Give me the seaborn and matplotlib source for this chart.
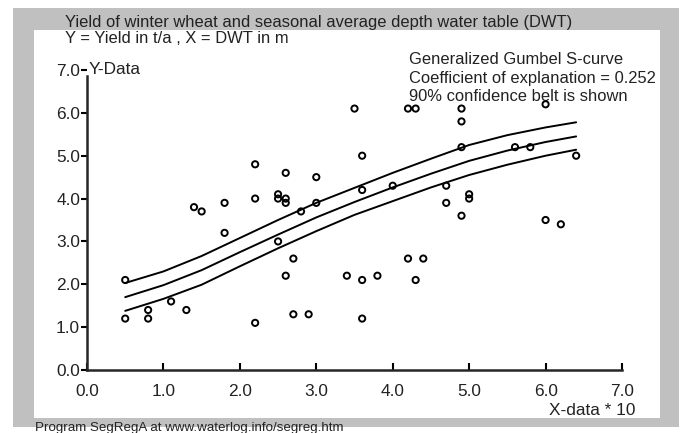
import matplotlib
matplotlib.use("Agg")
import matplotlib.pyplot as plt
from matplotlib.patches import Rectangle
import seaborn as sns
import pandas as pd

# ---- data ----
x_data = [0.5, 0.5, 0.8, 0.8, 1.1, 1.3, 1.4, 1.5, 1.8, 1.8, 2.2, 2.2, 2.2, 2.5, 2.5, 2.5,
          2.6, 2.6, 2.6, 2.6, 2.7, 2.7, 2.8, 2.9, 3.0, 3.0, 3.4, 3.5, 3.6, 3.6, 3.6, 3.6,
          3.8, 4.0, 4.2, 4.3, 4.2, 4.4, 4.3, 4.7, 4.7, 4.9, 4.9, 4.9, 4.9, 5.0, 5.0,
          5.6, 5.8, 6.0, 6.0, 6.2, 6.4]
y_data = [2.1, 1.2, 1.4, 1.2, 1.6, 1.4, 3.8, 3.7, 3.9, 3.2, 4.8, 4.0, 1.1, 4.1, 4.0, 3.0,
          4.6, 4.0, 3.9, 2.2, 2.6, 1.3, 3.7, 1.3, 4.5, 3.9, 2.2, 6.1, 5.0, 4.2, 2.1, 1.2,
          2.2, 4.3, 6.1, 6.1, 2.6, 2.6, 2.1, 4.3, 3.9, 6.1, 5.8, 5.2, 3.6, 4.1, 4.0,
          5.2, 5.2, 6.2, 3.5, 3.4, 5.0]

curve_x = [0.5, 1.0, 1.5, 2.0, 2.5, 3.0, 3.5, 4.0, 4.5, 5.0, 5.5, 6.0, 6.4]
curve_mid = [1.70, 1.98, 2.33, 2.75, 3.16, 3.56, 3.92, 4.26, 4.58, 4.88, 5.12, 5.32, 5.45]
curve_up = [2.03, 2.30, 2.66, 3.08, 3.50, 3.90, 4.25, 4.60, 4.93, 5.25, 5.48, 5.66, 5.78]
curve_lo = [1.38, 1.66, 1.99, 2.42, 2.84, 3.24, 3.62, 3.94, 4.26, 4.55, 4.79, 5.00, 5.14]

x_ticks = [0, 1, 2, 3, 4, 5, 6, 7]
x_tick_labels = ["0.0", "1.0", "2.0", "3.0", "4.0", "5.0", "6.0", "7.0"]
y_ticks = [0, 1, 2, 3, 4, 5, 6, 7]
y_tick_labels = ["0.0", "1.0", "2.0", "3.0", "4.0", "5.0", "6.0", "7.0"]

title = "Yield of winter wheat and seasonal average depth water table (DWT)"
subtitle = "Y = Yield in t/a , X = DWT in m"
notes = ["Generalized Gumbel S-curve",
         "Coefficient of explanation = 0.252",
         "90% confidence belt is shown"]
footer = "Program SegRegA at www.waterlog.info/segreg.htm"

# ---- figure ----
sns.set_style("white")
plt.rcParams["font.family"] = ["Liberation Sans", "DejaVu Sans"]

W, H = 687, 433
fig = plt.figure(figsize=(W / 100, H / 100), dpi=100)
fig.patch.set_facecolor("white")


def fx(px):
    return px / W


def fy(py):
    return 1 - py / H


fig.patches.append(Rectangle((fx(13), fy(427)), fx(679) - fx(13), fy(8) - fy(427),
                             transform=fig.transFigure, facecolor="#c0c0c0",
                             edgecolor="none", zorder=-10))
fig.patches.append(Rectangle((fx(34), fy(418)), fx(660) - fx(34), fy(30) - fy(418),
                             transform=fig.transFigure, facecolor="white",
                             edgecolor="none", zorder=-9))

ax = fig.add_axes([fx(87), fy(370), fx(622) - fx(87), fy(70) - fy(370)])
ax.set_facecolor("none")
ax.set_zorder(5)

df = pd.DataFrame({"x": x_data, "y": y_data})
cdf = pd.DataFrame({"x": curve_x, "mid": curve_mid, "up": curve_up, "lo": curve_lo})

for col in ["up", "mid", "lo"]:
    sns.lineplot(data=cdf, x="x", y=col, ax=ax, color="black", linewidth=1.4,
                 estimator=None, sort=False)

sns.scatterplot(data=df, x="x", y="y", ax=ax, marker="o", s=20,
                facecolor="none", edgecolor="black", linewidth=1.4, zorder=5)

ax.set_xlim(0, 7)
ax.set_ylim(0, 7)
ax.set_xticks(x_ticks)
ax.set_xticklabels(x_tick_labels)
ax.set_yticks(y_ticks)
ax.set_yticklabels(y_tick_labels)
ax.set_xlabel("")
ax.set_ylabel("")

txt_color = "#222222"
fs = 11.9
fs_ax = 12.4
ax.tick_params(axis="x", direction="in", length=5, width=1.5, pad=10,
               labelsize=fs_ax, labelcolor=txt_color, color="black", bottom=True)
ax.tick_params(axis="y", direction="out", length=4, width=1.5, pad=1,
               labelsize=fs_ax, labelcolor=txt_color, color="black", left=True)

for s in ["top", "right"]:
    ax.spines[s].set_visible(False)
ax.spines["left"].set_linewidth(1.8)
ax.spines["bottom"].set_linewidth(1.8)
ax.spines["left"].set_bounds(0, 6.85)

# texts
fig.text(fx(65), fy(27), title, fontsize=fs, color=txt_color, ha="left", va="baseline")
fig.text(fx(65), fy(43), subtitle, fontsize=fs, color=txt_color, ha="left", va="baseline")
for i, n in enumerate(notes):
    fig.text(fx(409), fy(64 + 18.7 * i), n, fontsize=fs, color=txt_color,
             ha="left", va="baseline")
fig.text(fx(89), fy(74), "Y-Data", fontsize=fs_ax, color=txt_color, ha="left",
         va="baseline")
fig.text(fx(635), fy(415), "X-data * 10", fontsize=fs_ax, color=txt_color,
         ha="right", va="baseline")
fig.text(fx(35), fy(431), footer, fontsize=9.6, color=txt_color,
         ha="left", va="baseline")

fig.savefig("out.png", dpi=100)
